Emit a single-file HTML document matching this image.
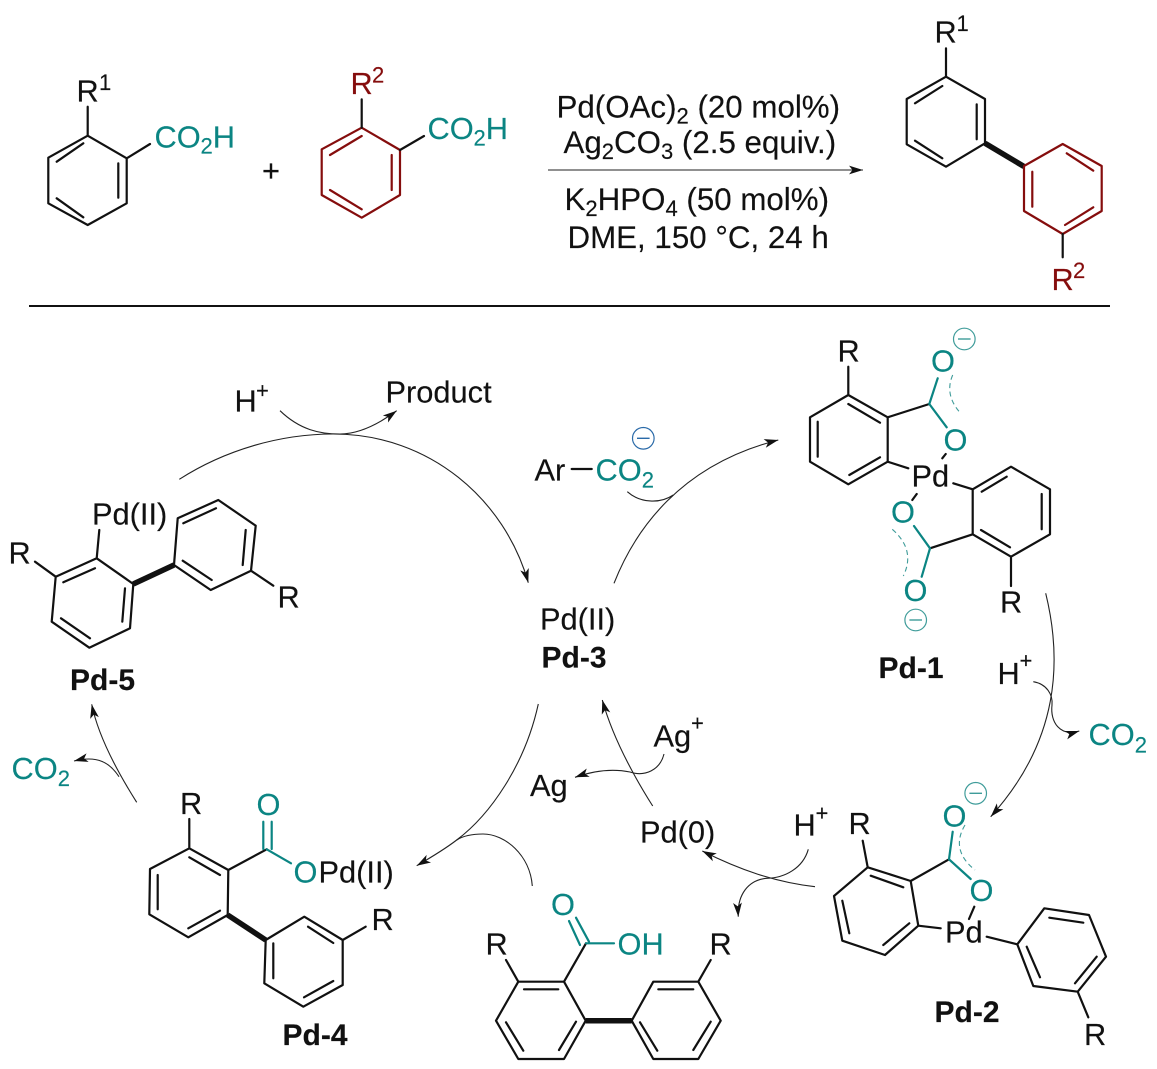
<!DOCTYPE html>
<html>
<head>
<meta charset="utf-8">
<style>
html,body{margin:0;padding:0;background:#fff;width:1157px;height:1069px;overflow:hidden}
svg{display:block}
text{font-family:"Liberation Sans",sans-serif;font-size:30.8px;fill:#111;stroke:#111;stroke-width:.15}
.s{font-size:22px}
.b{font-weight:bold;font-size:30px}
.t{fill:#0b8583;stroke:#0b8583}
.r{fill:#850d0d;stroke:#850d0d}
.bd{fill:none;stroke:#111;stroke-width:2.2;stroke-linecap:round;stroke-linejoin:round}
.rd{fill:none;stroke:#850d0d;stroke-width:2.2;stroke-linecap:round;stroke-linejoin:round}
.tb{fill:none;stroke:#0b8583;stroke-width:2.2;stroke-linecap:round}
.th{fill:none;stroke:#111;stroke-width:5.5;stroke-linecap:butt}
.ar{fill:none;stroke:#222;stroke-width:1.1}
.ah{fill:none;stroke:#222;stroke-width:1.1;marker-end:url(#m)}
.ds{fill:none;stroke:#3f9c9a;stroke-width:1.1;stroke-dasharray:5 3.5}
.mc{fill:none;stroke:#3f9c9a;stroke-width:1.2}
.ml{stroke:#3f9c9a;stroke-width:1.4}
</style>
</head>
<body>
<svg width="1157" height="1069" viewBox="0 0 1157 1069" xmlns="http://www.w3.org/2000/svg">
<defs>
<marker id="m" markerUnits="userSpaceOnUse" markerWidth="16" markerHeight="12" refX="14" refY="5" orient="auto" overflow="visible">
<path d="M0,0.6 L14,5 L0,9.4 L3.5,5 Z" fill="#111" stroke="none"/>
</marker>
</defs>

<!-- top-left reagent -->
<path class="bd" d="M87.7,135.7 L126.7,158.3 L126.7,203.3 L87.7,225 L48.3,203.3 L48.3,157.7 Z M83.3,143.3 L56.7,161.7 M118.3,163.3 L118.3,197.7 M83.3,217.3 L56.7,198.3 M87.7,106.7 L87.7,135.7 M126.7,158.3 L150,144"/>
<text x="76.5" y="101.7">R</text><text class="s" x="99" y="90">1</text>
<text class="t" x="154.5" y="147.3">CO</text><text class="t s" x="200.5" y="153.5">2</text><text class="t" x="212.7" y="147.3">H</text>
<text x="262" y="181">+</text>

<!-- second reagent -->
<path class="rd" d="M361.7,127.7 L400,150 L400,195 L361.7,217.7 L321.7,195 L321.7,149.3 Z M361.7,136 L330,155 M391.7,155 L391.7,190 M361.7,209.3 L330,190"/>
<path class="bd" d="M361.7,99.3 L361.7,127.7 M400,150 L424,136"/>
<text class="r" x="350.5" y="94">R</text><text class="r s" x="372" y="82.7">2</text>
<text class="t" x="427.5" y="139">CO</text><text class="t s" x="473.5" y="145.5">2</text><text class="t" x="485.7" y="139">H</text>

<!-- reagents -->
<text x="556.5" y="117.5" style="font-size:31.3px">Pd(OAc)<tspan dy="6" class="s">2</tspan><tspan dy="-6"> (20 mol%)</tspan></text>
<text x="563.5" y="153" style="font-size:31.3px">Ag<tspan dy="6" class="s">2</tspan><tspan dy="-6">CO</tspan><tspan dy="6" class="s">3</tspan><tspan dy="-6"> (2.5 equiv.)</tspan></text>
<path class="ah" d="M548,170 L863,170"/>
<text x="564.5" y="210" style="font-size:31.3px">K<tspan dy="6" class="s">2</tspan><tspan dy="-6">HPO</tspan><tspan dy="6" class="s">4</tspan><tspan dy="-6"> (50 mol%)</tspan></text>
<text x="567.5" y="248" style="font-size:31.3px">DME, 150 °C, 24 h</text>

<!-- product -->
<path class="bd" d="M946,76.7 L985,99 L985,143.3 L946,166.7 L906.7,144.3 L906.7,99 Z M942.3,86 L915,103.3 M976.7,104.3 L976.7,139.3 M942.3,158.3 L915,140.7 M946,48.3 L946,76.7"/>
<path class="th" d="M985,143.3 L1024,166.5"/>
<path class="rd" d="M1062.7,144 L1101.7,166 L1101.7,211 L1062.7,234 L1024,211 L1024,166 Z M1093.3,170.7 L1066.7,153.3 M1032.3,171.7 L1032.3,206.7 M1093.3,207.3 L1065,225"/>
<path class="bd" d="M1062.7,234 L1062.7,257.3"/>
<text x="934.5" y="42.7">R</text><text class="s" x="956.5" y="31">1</text>
<text class="r" x="1051.5" y="290">R</text><text class="r s" x="1073" y="278">2</text>

<line x1="29" y1="306" x2="1110" y2="306" stroke="#111" stroke-width="2"/>

<!-- Pd-1 -->
<path class="bd" d="M848.3,395 L887.7,417.3 L887.7,461.7 L848.3,484.3 L810,461.7 L810,417.3 Z M848.3,404 L880,422.7 M817.7,421.7 L817.7,456.7 M849.3,475 L880,457.3 M848.3,366.7 L848.3,395 M887.7,417.3 L929.3,404 M945.7,454 L942.3,458.3 M887.7,461.7 L908.3,468.3 M953.3,483.3 L972.7,489.3"/>
<path class="bd" d="M972.7,489.3 L1011,466.7 L1050,489.3 L1050,534.3 L1011,556.7 L972.7,534.3 Z M981.7,491.7 L1006.7,476.7 M1041.7,494 L1041.7,529.3 M1010,547.3 L981,530 M1011,556.7 L1011,586 M972.7,534.3 L930,548.3 M916.7,494 L912.3,500"/>
<path class="tb" d="M929.3,404 L937.7,378.3 M929.3,404 L946.7,427.3 M930,548.3 L914,526 M930,548.3 L921.7,576.7"/>
<path class="ds" d="M952.7,375 Q944,395 960.7,413.3"/>
<path class="ds" d="M892.3,529.3 Q916,550 903.3,576"/>
<text x="837.5" y="361.7">R</text>
<text class="t" x="931" y="371.7">O</text>
<text class="t" x="943.5" y="450.7">O</text>
<text x="911.5" y="486.7">Pd</text>
<text class="t" x="891" y="522.3">O</text>
<text class="t" x="903.5" y="601">O</text>
<text x="1000" y="612.7">R</text>
<circle class="mc" cx="964.3" cy="339" r="10.8"/><line class="ml" x1="958" y1="339" x2="970.6" y2="339"/>
<circle class="mc" cx="915.7" cy="620" r="10.8"/><line class="ml" x1="909.4" y1="620" x2="922" y2="620"/>
<text class="b" x="878.5" y="678">Pd-1</text>

<!-- Pd-2 -->
<path class="bd" d="M867.7,867.3 L910.7,881 L918.3,925.7 L885,955 L842.3,940.7 L834,896 Z M870.7,875.7 L903.3,887.3 M842.3,900.7 L849.3,933.3 M883.3,945 L909.3,923.3 M862.7,840.7 L867.7,867.3 M910.7,881 L949,859.3 M974.3,906.7 L969,919 M918.3,925.7 L940.7,928.3 M986.7,936.7 L1017.3,944.3"/>
<path class="bd" d="M1017.3,944.3 L1044.3,908.3 L1089,915 L1106,956.7 L1077.7,991.7 L1033.3,986 Z M1049.3,917.7 L1083.3,922.7 M1096.7,956.7 L1075,983.3 M1026.7,946.7 L1040,977.3 M1077.7,991.7 L1088.3,1017.3"/>
<path class="tb" d="M949,859.3 L952.7,831.7 M949,859.3 L970.7,879"/>
<path class="ds" d="M965,825 Q950,850 975,870"/>
<text x="848.5" y="834">R</text>
<text class="t" x="942.5" y="826.7">O</text>
<text class="t" x="969.5" y="901">O</text>
<text x="945" y="942.3">Pd</text>
<text x="1084" y="1045">R</text>
<circle class="mc" cx="975.7" cy="793.3" r="10.8"/><line class="ml" x1="969.4" y1="793.3" x2="982" y2="793.3"/>
<text class="b" x="934.5" y="1022">Pd-2</text>

<!-- biaryl acid -->
<path class="bd" d="M518.3,981.7 L564,981.7 L585.7,1020.7 L564,1059 L518.3,1059 L496,1020.7 Z M524,989.3 L558.3,989.3 M576,1021.7 L559,1050 M506,1022.3 L523.3,1050.7 M518.3,981.7 L506,960 M564,981.7 L586,943.3"/>
<path class="bd" d="M631.7,1020.7 L653.3,981.7 L698.3,981.7 L720.7,1020.7 L698.3,1059 L653.3,1059 Z M658.3,989.3 L693.3,989.3 M710.7,1021.7 L693.3,1050 M640,1022.3 L657.3,1050.7 M698.3,981.7 L710.7,960"/>
<path class="th" d="M585.7,1020.7 L631.7,1020.7"/>
<path class="tb" d="M586,943.3 L614,943.3 M580,945 L569,921 M589,941.7 L576,917.7"/>
<text x="485.5" y="954.3">R</text>
<text x="709.5" y="954.3">R</text>
<text class="t" x="551" y="915">O</text>
<text class="t" x="617.5" y="954.3">OH</text>

<!-- Pd-4 -->
<path class="bd" d="M189.3,848.3 L228.3,870 L227.7,915 L188.3,937.3 L149.3,914.3 L150,869 Z M189.3,857.3 L220,875 M157.7,875 L157.7,909.3 M188.3,928.3 L220,910.7 M189.3,819 L189.3,848.3 M228.3,870 L266.7,849.3"/>
<path class="bd" d="M265.7,940 L304.3,916.7 L342.7,940 L342.7,985 L303.3,1006.7 L264.3,983.3 Z M333.3,943 L308,926.7 M273.3,943.3 L273.3,978.3 M333.3,981 L304,997.3 M342.7,940 L365.7,926.7"/>
<path class="th" d="M227.7,915 L265.7,940"/>
<path class="tb" d="M266.7,849.3 L291,863.3 M263.3,849 L263.3,821.7 M271.7,849 L271.7,821.7"/>
<text x="180" y="814">R</text>
<text class="t" x="256.5" y="815">O</text>
<text class="t" x="293.5" y="882.7">O</text>
<text x="318.5" y="882.7">Pd(II)</text>
<text x="371.5" y="930">R</text>
<text class="b" x="282.5" y="1045">Pd-4</text>

<!-- Pd-5 -->
<path class="bd" d="M96.7,558.3 L133.3,584 L130,628.3 L89.3,647.7 L51.7,621.7 L55.7,576.7 Z M95,568.3 L63.3,582.3 M125,588.3 L122.3,621.7 M90,638.3 L61,618.3 M99.3,530 L96.7,558.3 M35,561.7 L55.7,576.7"/>
<path class="bd" d="M174,565 L177.7,518.3 L218.3,500 L255.7,525.7 L251,570.7 L210.7,590 Z M183.3,523.3 L216,508.3 M245.7,530 L242.7,565 M211.7,580 L182.7,560.7 M251,570.7 L273.3,585.7"/>
<path class="th" d="M133.3,584 L174,565"/>
<text x="92" y="524.3">Pd(II)</text>
<text x="8.5" y="563.3">R</text>
<text x="277.5" y="607.3">R</text>
<text class="b" x="70" y="690">Pd-5</text>

<!-- Pd-3 -->
<text x="540" y="629.3">Pd(II)</text>
<text class="b" x="541.5" y="667.7">Pd-3</text>

<!-- small labels -->
<text x="234.5" y="411.7">H</text><text class="s" x="256" y="398">+</text>
<text x="385.5" y="402.3">Product</text>
<text x="534.5" y="480.7">Ar</text>
<path class="bd" d="M571.7,469 L591.7,469"/>
<text class="t" x="595.5" y="480.7">CO</text><text class="t s" x="641.7" y="487.7">2</text>
<circle cx="643.3" cy="438.3" r="10.8" fill="none" stroke="#2a6aa8" stroke-width="1.2"/><line x1="637" y1="438.3" x2="649.6" y2="438.3" stroke="#2a6aa8" stroke-width="1.4"/>
<text x="997.5" y="684">H</text><text class="s" x="1019.5" y="668">+</text>
<text class="t" x="1088.5" y="745">CO</text><text class="t s" x="1134.7" y="752.5">2</text>
<text x="653.5" y="746.7">Ag</text><text class="s" x="691" y="730.7">+</text>
<text x="530" y="796">Ag</text>
<text x="640" y="842.7">Pd(0)</text>
<text x="793.5" y="835.7">H</text><text class="s" x="815.5" y="820.7">+</text>
<text class="t" x="11.5" y="779">CO</text><text class="t s" x="57.7" y="786">2</text>

<!-- arrows -->
<path class="ah" d="M179.3,479.3 C225,450 280,434 333.3,434 C430,434 505,500 528.3,582.7"/>
<path class="ah" d="M280,410.7 C300,430 320,434 340,434 C360,434 380,423 396.7,410.7"/>
<path class="ah" d="M614,583.3 C635,530 680,465 778.3,440"/>
<path class="ar" d="M627.3,491.7 C640,503 660,504 673.3,495"/>
<path class="ah" d="M1045.7,593.3 C1062,660 1060,740 990.7,816.7"/>
<path class="ah" d="M1033.3,681.7 C1047,684 1053,695 1052,705 C1050,722 1060,737 1079.3,731"/>
<path class="ah" d="M652.7,806 C630,770 612,735 602.3,700"/>
<path class="ah" d="M664,754 C660,770 645,777 630,772 C610,768 590,772 575,777.3"/>
<path class="ah" d="M815,886.7 C775,882 740,870 702.3,851"/>
<path class="ah" d="M808.3,849.3 C803,868 785,878 766.7,878.3 C748,880 737,895 738.3,916.7"/>
<path class="ah" d="M538.3,704 C525,765 490,815 456.7,840 C445,849 430,858 416.7,865.7"/>
<path class="ar" d="M532.3,886 C530,855 505,834 483,834 C472,834 463,836 456.7,840"/>
<path class="ah" d="M136.7,802.3 C115,768 98,735 91.7,704.3"/>
<path class="ah" d="M119,776.7 C110,763 98,755 74,761"/>
</svg>
</body>
</html>
